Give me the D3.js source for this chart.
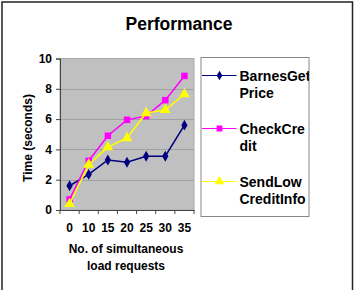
<!DOCTYPE html>
<html>
<head>
<meta charset="utf-8">
<script src="https://cdn.jsdelivr.net/npm/d3@7"></script>
<style>
  body { margin: 0; background: #fff; }
  svg { display: block; font-family: "Liberation Sans", Arial, sans-serif; font-weight: bold; }
</style>
</head>
<body>
<svg id="chart"></svg>
<script>
const categories = ['0', '10', '15', '20', '25', '30', '35'];
const barnesGetPrice = [1.6, 2.35, 3.3, 3.15, 3.55, 3.55, 5.6];
const checkCredit = [0.7, 3.25, 4.9, 5.95, 6.2, 7.25, 8.85];
const sendLowCreditInfo = [0.4, 3.0, 4.15, 4.75, 6.4, 6.6, 7.65];
const yTicks = [0, 2, 4, 6, 8, 10];

const series = [
  { name: ['BarnesGet', 'Price'], values: barnesGetPrice, color: '#000080', symbol: d3.symbolDiamond, size: 34 },
  { name: ['CheckCre', 'dit'], values: checkCredit, color: '#ff00ff', symbol: d3.symbolSquare, size: 42 },
  { name: ['SendLow', 'CreditInfo'], values: sendLowCreditInfo, color: '#ffff00', symbol: d3.symbolTriangle, size: 50 }
];

const width = 355, height = 290;
const plot = { left: 60, right: 194, top: 58.5, bottom: 210 };

const svg = d3.select('#chart').attr('width', width).attr('height', height);

// outer frame (bottom edge runs off the picture)
svg.append('path')
  .attr('d', `M2,${height + 2}V2H352.5V${height + 2}`)
  .attr('fill', 'none').attr('stroke', '#222').attr('stroke-width', 1.5);

svg.append('text')
  .attr('x', 179).attr('y', 29.5)
  .attr('text-anchor', 'middle')
  .style('font-size', '17.5px')
  .text('Performance');

const x = d3.scaleBand().domain(categories).range([plot.left, plot.right]);
const y = d3.scaleLinear().domain([0, 10]).range([plot.bottom, plot.top]);

// plot area
svg.append('rect')
  .attr('x', plot.left).attr('y', plot.top)
  .attr('width', plot.right - plot.left).attr('height', plot.bottom - plot.top)
  .attr('fill', '#c0c0c0').attr('stroke', '#a8a8a8').attr('stroke-width', 1);

svg.append('g')
  .selectAll('line')
  .data(yTicks.filter(d => d > 0 && d < 10))
  .join('line')
  .attr('x1', plot.left).attr('x2', plot.right)
  .attr('y1', d => Math.round(y(d)) + 0.5).attr('y2', d => Math.round(y(d)) + 0.5)
  .attr('stroke', '#a0a0a0');

// y axis
const yAxis = svg.append('g')
  .attr('transform', `translate(${plot.left},0)`)
  .call(d3.axisLeft(y).tickValues(yTicks).tickSize(4).tickPadding(4));
yAxis.select('.domain').attr('stroke', '#444');
yAxis.selectAll('.tick line').attr('stroke', '#444');
yAxis.selectAll('text').style('font-size', '12px').style('font-family', 'inherit').style('font-weight', 'bold').attr('fill', '#000');

// x axis: ticks on category boundaries
const xAxis = svg.append('g')
  .attr('transform', `translate(0,${plot.bottom})`)
  .call(d3.axisBottom(x).tickSize(0).tickPadding(13));
xAxis.select('.domain').attr('stroke', '#444');
xAxis.selectAll('text').style('font-size', '12px').style('font-family', 'inherit').style('font-weight', 'bold').attr('fill', '#000');
xAxis.selectAll('.bound')
  .data(categories.map(c => x(c)).concat([plot.right]))
  .join('line')
  .attr('x1', d => d).attr('x2', d => d)
  .attr('y1', 0).attr('y2', 4)
  .attr('stroke', '#444');

svg.append('text')
  .attr('text-anchor', 'middle')
  .style('font-size', '12px')
  .selectAll('tspan')
  .data(['No. of simultaneous', 'load requests'])
  .join('tspan')
  .attr('x', 126).attr('y', (d, i) => 253 + i * 17)
  .text(d => d);

svg.append('text')
  .attr('transform', 'translate(32,138) rotate(-90)')
  .attr('text-anchor', 'middle')
  .style('font-size', '12px')
  .text('Time (seconds)');

// series
const cx = i => x(categories[i]) + x.bandwidth() / 2;
const line = d3.line().x((d, i) => cx(i)).y(d => y(d));

series.forEach(s => {
  const g = svg.append('g');
  g.append('path')
    .attr('d', line(s.values))
    .attr('fill', 'none').attr('stroke', s.color).attr('stroke-width', 1.5);
  g.selectAll('path.pt')
    .data(s.values)
    .join('path')
    .attr('class', 'pt')
    .attr('transform', (d, i) => `translate(${cx(i)},${y(d)})`)
    .attr('d', d3.symbol(s.symbol, s.size))
    .attr('fill', s.color);
});

// legend, text clipped at the box edge like the original
const legend = { x: 201, y: 57.5, w: 108, h: 159 };
svg.append('clipPath').attr('id', 'legclip')
  .append('rect').attr('x', legend.x).attr('y', legend.y).attr('width', legend.w).attr('height', legend.h);
svg.append('rect')
  .attr('x', legend.x).attr('y', legend.y).attr('width', legend.w).attr('height', legend.h)
  .attr('fill', '#fff').attr('stroke', '#888').attr('stroke-width', 1);

const lg = svg.append('g').attr('clip-path', 'url(#legclip)');
series.forEach((s, k) => {
  const ly = 75.5 + k * 53;
  lg.append('line')
    .attr('x1', 202).attr('x2', 236.5).attr('y1', ly).attr('y2', ly)
    .attr('stroke', s.color).attr('stroke-width', 1.2);
  lg.append('path')
    .attr('transform', `translate(219.5,${ly})`)
    .attr('d', d3.symbol(s.symbol, s.size * 0.8))
    .attr('fill', s.color);
  lg.append('text')
    .style('font-size', '14px')
    .selectAll('tspan')
    .data(s.name)
    .join('tspan')
    .attr('x', 239.5).attr('y', (d, i) => ly + 5 + i * 17.5)
    .text(d => d);
});
</script>
</body>
</html>
